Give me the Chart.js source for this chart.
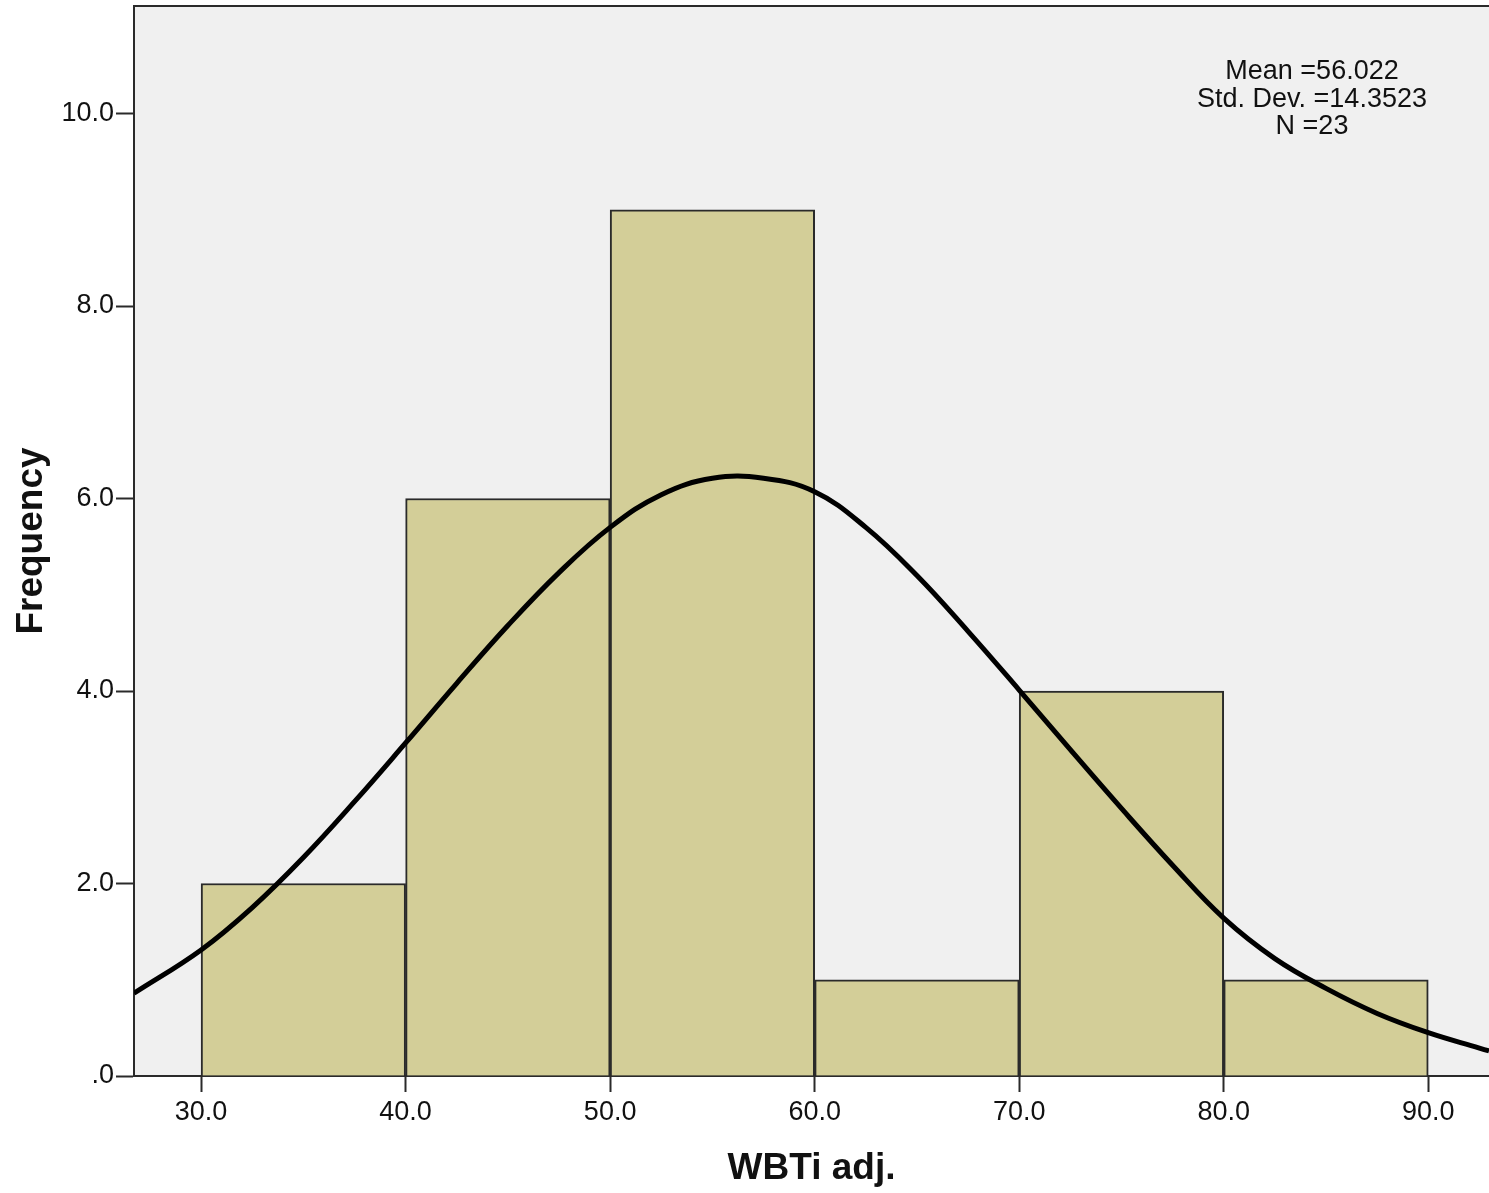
<!DOCTYPE html>
<html>
<head>
<meta charset="utf-8">
<script src="https://cdn.jsdelivr.net/npm/chart.js@4"></script>
<style>
  html, body { margin: 0; padding: 0; background: #ffffff; }
  #wrap { width: 1489px; height: 1193px; position: relative; }
</style>
</head>
<body>
<div id="wrap"><canvas id="c" width="1489" height="1193"></canvas></div>
<script>
// ---- data ----
const binCenters = [35, 45, 55, 65, 75, 85];
const binCounts  = [2, 6, 9, 1, 4, 1];
const curveX = [26.72, 30, 32.5, 35, 37.5, 40, 42.5, 45, 47.5, 50, 52.5, 55, 57.5, 60, 62.5, 65, 67.5, 70, 72.5, 75, 77.5, 80, 82.5, 85, 87.5, 90, 92.5, 92.97];
const curveY = [0.86, 1.31, 1.75, 2.27, 2.85, 3.46, 4.08, 4.68, 5.23, 5.70, 6.04, 6.21, 6.21, 6.07, 5.70, 5.20, 4.62, 4.01, 3.39, 2.78, 2.19, 1.64, 1.22, 0.91, 0.65, 0.45, 0.29, 0.26];
const xTicks = [30, 40, 50, 60, 70, 80, 90];
const yTicks = [0, 2, 4, 6, 8, 10];
const statLines = ['Mean =56.022', 'Std. Dev. =14.3523', 'N =23'];
const xTitle = 'WBTi adj.';
const yTitle = 'Frequency';

const FONT = "'Liberation Sans', Arial, sans-serif";

const framePlugin = {
  id: 'frame',
  beforeDraw(chart) {
    const { ctx, chartArea: a } = chart;
    ctx.save();
    ctx.fillStyle = '#f0f0f0';
    ctx.fillRect(a.left, a.top, a.right - a.left, a.bottom - a.top);
    ctx.restore();
  },
  afterDraw(chart) {
    const { ctx, chartArea: a } = chart;
    ctx.save();
    ctx.strokeStyle = '#2a2a2a';
    ctx.lineWidth = 2;
    ctx.beginPath();
    ctx.moveTo(a.left, a.top);
    ctx.lineTo(a.right, a.top);
    ctx.stroke();
    // stats text
    ctx.fillStyle = '#111';
    ctx.font = '27px ' + FONT;
    ctx.textAlign = 'center';
    ctx.textBaseline = 'middle';
    const cx = 1312;
    statLines.forEach((t, i) => ctx.fillText(t, cx, 72 + i * 27.5));
    ctx.restore();
  }
};

new Chart(document.getElementById('c'), {
  data: {
    datasets: [
      {
        type: 'line',
        data: curveX.map((x, i) => ({ x, y: curveY[i] })),
        borderColor: '#000',
        borderWidth: 5,
        pointRadius: 0,
        tension: 0.4,
        fill: false,
        order: 0
      },
      {
        type: 'bar',
        data: binCenters.map((x, i) => ({ x, y: binCounts[i] })),
        backgroundColor: '#d3ce98',
        borderColor: '#2a2a2a',
        borderWidth: 2,
        barPercentage: 1.0,
        categoryPercentage: 1.0,
        order: 1
      }
    ]
  },
  options: {
    responsive: false,
    animation: false,
    layout: { padding: { top: 6, left: 0, right: 0, bottom: 0 } },
    plugins: { legend: { display: false }, tooltip: { enabled: false } },
    scales: {
      x: {
        type: 'linear',
        offset: false,
        min: 26.72,
        max: 92.97,
        afterBuildTicks: (s) => { s.ticks = xTicks.map(v => ({ value: v })); },
        afterFit: (s) => { s.height = 117; s.paddingLeft = 0; s.paddingRight = 0; },
        grid: { display: true, offset: false, drawOnChartArea: false, drawTicks: true, tickLength: 16, tickWidth: 2, tickColor: '#2a2a2a' },
        border: { display: true, color: '#2a2a2a', width: 2 },
        ticks: { color: '#111', font: { family: FONT, size: 27 }, padding: 4, maxRotation: 0, autoSkip: false, callback: (v) => Number(v).toFixed(1) },
        title: { display: true, text: xTitle, color: '#111', font: { family: FONT, size: 37, weight: 'bold' }, padding: { top: 0, bottom: 2 } }
      },
      y: {
        type: 'linear',
        min: 0,
        max: 11.117,
        afterBuildTicks: (s) => { s.ticks = yTicks.map(v => ({ value: v })); },
        afterFit: (s) => { s.width = 134; s.paddingTop = 0; s.paddingBottom = 0; },
        grid: { display: true, drawOnChartArea: false, drawTicks: true, tickLength: 18, tickWidth: 2, tickColor: '#2a2a2a' },
        border: { display: true, color: '#2a2a2a', width: 2 },
        ticks: { color: '#111', font: { family: FONT, size: 27 }, padding: 2, autoSkip: false, callback: (v) => v === 0 ? '.0' : Number(v).toFixed(1) },
        title: { display: true, text: yTitle, color: '#111', font: { family: FONT, size: 37, weight: 'bold' }, padding: { top: 10, bottom: 0 } }
      }
    }
  },
  plugins: [framePlugin]
});
</script>
</body>
</html>
